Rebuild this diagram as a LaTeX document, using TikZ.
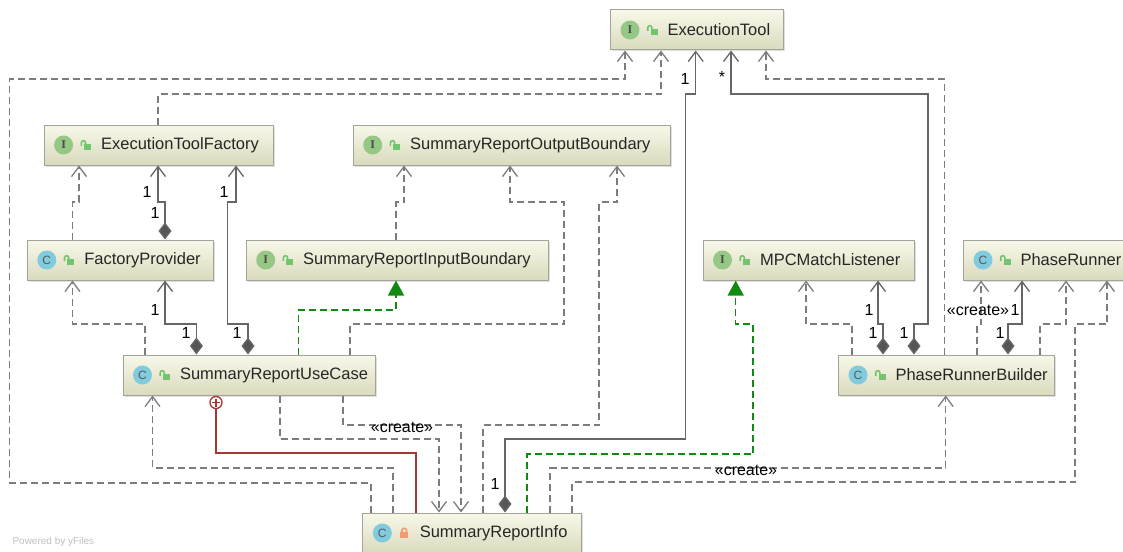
\documentclass[tikz,border=0pt]{standalone}
\usepackage{fontspec}
\setmainfont{Liberation Sans}
\newfontfamily\iconserif{Liberation Serif}
\usetikzlibrary{arrows.meta,shadows}

\definecolor{boxtop}{HTML}{F8F8EA}
\definecolor{boxbot}{HTML}{DADABD}
\definecolor{boxline}{HTML}{A3A39A}
\definecolor{depgray}{HTML}{7C7C7C}
\definecolor{assocgray}{HTML}{666666}
\definecolor{diafill}{HTML}{555555}
\definecolor{realgreen}{HTML}{118A11}
\definecolor{nestred}{HTML}{A83434}
\definecolor{icongreen}{HTML}{95C785}
\definecolor{iconblue}{HTML}{80CBDD}
\definecolor{lockgreen}{HTML}{72C46E}
\definecolor{lockorange}{HTML}{F29C6C}

\newcommand{\umlfont}{\fontsize{16.5}{19}\selectfont}
\newcommand{\multfont}{\fontsize{16}{18}\selectfont}

\tikzset{
  umlbox/.style={draw=boxline, line width=1pt, top color=boxtop, bottom color=boxbot,
    minimum height=40pt, inner xsep=0pt, inner ysep=0pt, text width=#1pt, align=left,
    anchor=west, font=\umlfont, text=black!85,
    execute at begin node={\hspace*{57pt}},
    drop shadow={shadow xshift=1.5pt, shadow yshift=-1.5pt, opacity=0.25}},
  icI/.style={circle, fill=icongreen, minimum size=19pt, inner sep=0pt,
    font=\iconserif\bfseries\fontsize{12}{12}\selectfont, text=black!70},
  icC/.style={circle, fill=iconblue, minimum size=19pt, inner sep=0pt,
    font=\fontsize{12}{12}\selectfont, text=black!65},
  openlock/.pic={
    \fill[lockgreen] (-1.5pt,-5pt) rectangle (5.5pt,1pt);
    \draw[lockgreen, line width=1.6pt] (-4.3pt,-1pt) -- (-4.3pt,2.2pt) arc(180:0:2.1pt) -- (-0.1pt,1pt);
  },
  closedlock/.pic={
    \fill[lockorange] (-4pt,-5pt) rectangle (4pt,1pt);
    \draw[lockorange, line width=1.6pt] (-2.3pt,1pt) -- (-2.3pt,2.5pt) arc(180:0:2.3pt) -- (2.3pt,1pt);
  },
  dep/.style={draw=depgray, line width=1.3pt, dash pattern=on 7pt off 4pt,
    -{Straight Barb[length=10pt,width=15pt]}},
  comp/.style={draw=assocgray, line width=1.3pt,
    {Diamond[length=17pt,width=13pt,fill=diafill]}-{Straight Barb[length=10pt,width=15pt]}},
  real/.style={draw=realgreen, line width=1.3pt, dash pattern=on 7pt off 4pt,
    -{Triangle[length=15pt,width=16pt,fill=realgreen]}},
  nest/.style={draw=nestred, line width=1.5pt},
  nestmark/.style={circle, draw=nestred, line width=1.3pt, fill=white, minimum size=12pt, inner sep=0pt},
  mult/.style={font=\multfont, text=black, inner sep=0pt}
}

\begin{document}
\begin{tikzpicture}[x=1pt, y=-1pt]
  \useasboundingbox (0,0) rectangle (1123,551);

  % classes and interfaces
  \node[umlbox=173] (etool) at (610,30) {ExecutionTool};
  \node[umlbox=229.5] (etfactory) at (43.6,145) {ExecutionToolFactory};
  \node[umlbox=317] (outbound) at (352.7,145) {SummaryReportOutputBoundary};
  \node[umlbox=186] (facprov) at (26.8,260) {FactoryProvider};
  \node[umlbox=302] (inbound) at (245.7,260) {SummaryReportInputBoundary};
  \node[umlbox=211] (mpclisten) at (702.5,260) {MPCMatchListener};
  \node[umlbox=175] (prunner) at (963,260) {PhaseRunner};
  \node[umlbox=252] (usecase) at (122.5,375) {SummaryReportUseCase};
  \node[umlbox=216] (prbuilder) at (838,375) {PhaseRunnerBuilder};
  \node[umlbox=219] (info) at (362.3,533) {SummaryReportInfo};

  \foreach \n/\k in {etool/I, etfactory/I, outbound/I, facprov/C, inbound/I,
      mpclisten/I, prunner/C, usecase/C, prbuilder/C, info/C}
    \node[ic\k] (\n-icon) at ([xshift=20pt]\n.west) {\k};
  \foreach \n in {etool, etfactory, outbound, facprov, inbound, mpclisten, prunner, usecase, prbuilder}
    \pic at ([xshift=42pt]\n.west) {openlock};
  \pic at ([xshift=42pt]info.west) {closedlock};

  % ExecutionToolFactory, FactoryProvider, InputBoundary
  \draw[dep] (158,0 |- etfactory.north) |- (661,94) -- (661,0 |- etool.south);
  \draw[dep] (72.5,0 |- facprov.north) |- (79,202) -- (79,0 |- etfactory.south);
  \draw[comp] (165,0 |- facprov.north) |- (158,202) -- (158,0 |- etfactory.south);
  \draw[dep] (396,0 |- inbound.north) |- (404,202) -- (404,0 |- outbound.south);

  % SummaryReportUseCase
  \draw[dep] (145,0 |- usecase.north) |- (72.5,324) -- (72.5,0 |- facprov.south);
  \draw[comp] (196.4,0 |- usecase.north) |- (165,324) -- (165,0 |- facprov.south);
  \draw[comp] (248,0 |- usecase.north) |- (227.5,324) |- (236,202) -- (236,0 |- etfactory.south);
  \draw[real] (298.6,0 |- usecase.north) |- (396,310) -- (396,0 |- inbound.south);
  \draw[dep] (350,0 |- usecase.north) |- (564,324) |- (510,202) -- (510,0 |- outbound.south);
  \draw[dep] (280,0 |- usecase.south) |- (439,439) -- (439,0 |- info.north);
  \draw[dep] (343,0 |- usecase.south) |- (461,425) -- (461,0 |- info.north);
  \node[nestmark] (nestplus) at (216,402.5) {};
  \draw[nestred, line width=1.2pt] ([yshift=-4pt]nestplus.center) -- ([yshift=4pt]nestplus.center)
    ([xshift=-4pt]nestplus.center) -- ([xshift=4pt]nestplus.center);
  \draw[nest] (nestplus.south) |- (416,453) -- (416,0 |- info.north);

  % SummaryReportInfo
  \draw[dep] (371,0 |- info.north) |- (9.6,483) |- (625,79) -- (625,0 |- etool.south);
  \draw[dep] (393,0 |- info.north) |- (152.5,468) -- (152.5,0 |- usecase.south);
  \draw[dep] (483,0 |- info.north) |- (599,425) |- (617,202) -- (617,0 |- outbound.south);
  \draw[comp] (505,0 |- info.north) |- (685.7,439) |- (695.7,94) -- (695.7,0 |- etool.south);
  \draw[real] (527,0 |- info.north) |- (753,454) |- (735.7,324) -- (735.7,0 |- mpclisten.south);
  \draw[dep] (550,0 |- info.north) |- (945.7,468) -- (945.7,0 |- prbuilder.south);
  \draw[dep] (572,0 |- info.north) |- (1075,482) |- (1107,324) -- (1107,0 |- prunner.south);

  % PhaseRunnerBuilder
  \draw[comp] (914,0 |- prbuilder.north) |- (928,324) |- (731,94) -- (731,0 |- etool.south);
  \draw[dep] (944.6,0 |- prbuilder.north) |- (766,79) -- (766,0 |- etool.south);
  \draw[dep] (852,0 |- prbuilder.north) |- (806,324) -- (806,0 |- mpclisten.south);
  \draw[comp] (883,0 |- prbuilder.north) |- (878,324) -- (878,0 |- mpclisten.south);
  \draw[dep] (977,0 |- prbuilder.north) |- (981,324) -- (981,0 |- prunner.south);
  \draw[comp] (1008,0 |- prbuilder.north) |- (1022,324) -- (1022,0 |- prunner.south);
  \draw[dep] (1040,0 |- prbuilder.north) |- (1066,324) -- (1066,0 |- prunner.south);

  % multiplicities and stereotypes
  \node[mult] (fp-m1) at (147,192) {1};
  \node[mult] (fp-m2) at (155,213) {1};
  \node[mult] (uc-m1) at (224,192) {1};
  \node[mult] (uc-m2) at (237,333) {1};
  \node[mult] (uc-m3) at (155,310) {1};
  \node[mult] (uc-m4) at (186,333) {1};
  \node[mult] (inf-m1) at (685,79) {1};
  \node[mult] (inf-m2) at (495,484) {1};
  \node[mult] (prb-m1) at (722,77) {*};
  \node[mult] (prb-m2) at (904,333) {1};
  \node[mult] (prb-m3) at (869,310) {1};
  \node[mult] (prb-m4) at (873,333) {1};
  \node[mult] (prb-m5) at (1015,310) {1};
  \node[mult] (prb-m6) at (1000,333) {1};
  \node[mult] (create-uc) at (402,427) {«create»};
  \node[mult] (create-prb) at (746,470) {«create»};
  \node[mult] (create-pr) at (978,310) {«create»};

  \node[font=\fontsize{10}{10}\selectfont, text=black!25, anchor=west] (yfiles) at (9,541.5) {Powered by yFiles};
\end{tikzpicture}
\end{document}
